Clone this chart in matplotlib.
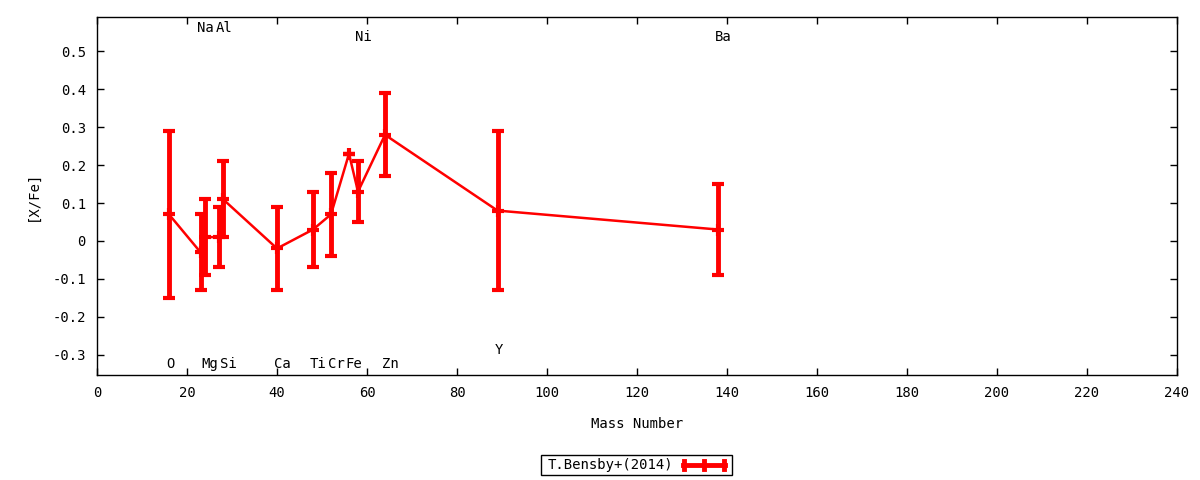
import matplotlib
matplotlib.use("Agg")
import matplotlib.pyplot as plt
from matplotlib.lines import Line2D
from matplotlib.patches import Rectangle
from matplotlib.ticker import MultipleLocator, FuncFormatter

# ---- data ----
elements = ["O", "Na", "Mg", "Al", "Si", "Ca", "Ti", "Cr", "Fe", "Ni", "Zn", "Y", "Ba"]
mass_number = [16, 23, 24, 27, 28, 40, 48, 52, 56, 58, 64, 89, 138]
x_fe = [0.07, -0.03, 0.01, 0.01, 0.11, -0.02, 0.03, 0.07, 0.23, 0.13, 0.28, 0.08, 0.03]
x_fe_err = [0.22, 0.10, 0.10, 0.08, 0.10, 0.11, 0.10, 0.11, 0.0, 0.08, 0.11, 0.21, 0.12]
label_y = [-0.325, 0.563, -0.325, 0.563, -0.325, -0.325, -0.325, -0.325, -0.325,
           0.537, -0.325, -0.288, 0.537]
series_name = "T.Bensby+(2014)"

FONT = "DejaVu Sans Mono"
plt.rcParams["font.family"] = [FONT, "DejaVu Sans"]
FS = 10.0

fig = plt.figure(figsize=(12, 4.8), dpi=100)
W, H = 1200, 480
L, R, T, B = 97, 1177, 17, 375
ax = fig.add_axes([L / W, 1 - B / H, (R - L) / W, (B - T) / H])

ax.errorbar(mass_number, x_fe, yerr=x_fe_err, color="#ff0000", lw=1.8,
            elinewidth=3.5, capsize=4, capthick=3.5,
            marker="+", ms=9, mew=3)

for el, m, ly in zip(elements, mass_number, label_y):
    ax.text(m - 0.7, ly, el, ha="left", va="center", fontsize=FS, color="black")

ax.set_xlim(0, 240)
ax.set_ylim(-0.354, 0.591)
ax.xaxis.set_major_locator(MultipleLocator(20))
ax.yaxis.set_major_locator(MultipleLocator(0.1))
ax.yaxis.set_major_formatter(FuncFormatter(lambda v, p: "%g" % round(v, 3)))
ax.tick_params(direction="in", length=5, width=1, top=True, right=True,
               labelsize=FS, pad=8)
for s in ax.spines.values():
    s.set_linewidth(1)

ax.set_xlabel("Mass Number", fontsize=FS, labelpad=12)
ax.set_ylabel("[X/Fe]", fontsize=FS, labelpad=9)

# legend box drawn gnuplot-style
bx0, bx1, by0, by1 = 541, 732, 455, 475
fig.patches.append(Rectangle((bx0 / W, 1 - by1 / H), (bx1 - bx0) / W, (by1 - by0) / H,
                             transform=fig.transFigure, fill=False, edgecolor="black", lw=1))
fig.text(673 / W, 1 - 465 / H, series_name, ha="right", va="center", fontsize=FS)
yc = 1 - 464.5 / H
fig.lines.append(Line2D([683 / W, 725 / W], [yc, yc], transform=fig.transFigure,
                        color="#ff0000", lw=3.5))
for xp in (684, 704, 724):
    fig.lines.append(Line2D([xp / W, xp / W], [yc - 4 / H, yc + 4 / H],
                            transform=fig.transFigure, color="#ff0000", lw=3.5))

fig.savefig("out.png", dpi=100)
